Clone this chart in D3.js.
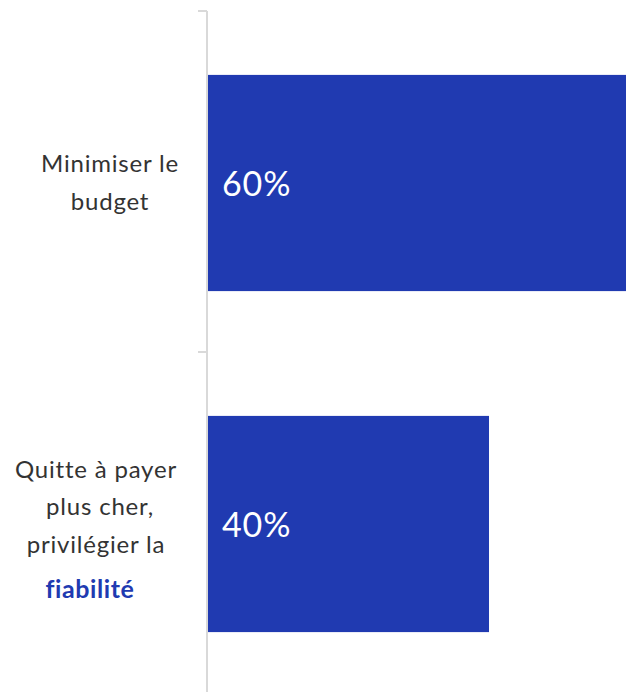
<!DOCTYPE html>
<html><head><meta charset="utf-8">
<script src="https://cdn.jsdelivr.net/npm/d3@7"></script>
<style>body{margin:0;background:#fff}svg{display:block}</style>
</head><body>
<script>
const categories = ["Minimiser le budget", "Quitte à payer plus cher, privilégier la fiabilité"];
const values = [60, 40];
const labelLines = [
  [{t:"Minimiser le"},{t:"budget"}],
  [{t:"Quitte à payer"},{t:"plus cher,"},{t:"privilégier la"},{t:"fiabilité", hl:true}]
];

const W = 626, H = 692;
const svg = d3.select("body").append("svg").attr("width", W).attr("height", H);
const x = d3.scaleLinear().domain([0, 59.5]).range([208, 626]);
const y = d3.scaleBand().domain(categories).range([12.5, 694.5]).paddingInner(0.366).paddingOuter(0.183);

svg.selectAll("rect.bar").data(categories).join("rect")
  .attr("x", x(0)).attr("y", d => y(d)).attr("height", y.bandwidth())
  .attr("width", (d,i) => x(values[i]) - x(0)).attr("fill", "#203AB1");

// axis
const step = (693 - 11) / categories.length;
svg.append("line").attr("x1", 207).attr("x2", 207).attr("y1", 11).attr("y2", 692)
  .attr("stroke", "#d9d9d9").attr("stroke-width", 2);
[0,1].forEach(i => {
  svg.append("line").attr("x1", 198).attr("x2", 207).attr("y1", 11 + i*step).attr("y2", 11 + i*step)
    .attr("stroke", "#d9d9d9").attr("stroke-width", 2);
});

// value labels
svg.selectAll("text.val").data(categories).join("text")
  .attr("x", 222).attr("y", d => y(d) + y.bandwidth()/2 + 13)
  .attr("fill", "#fff").attr("font-family", "Lato, sans-serif").attr("font-size", 34)
  .attr("letter-spacing", 0.9)
  .text((d,i) => values[i] + "%");

// category labels
const lineCfg = [
  {cx:[110, 110], ys:[172, 210]},
  {cx:[96, 100, 96, 90], ys:[478, 515, 553, 598]}
];
categories.forEach((c, i) => {
  labelLines[i].forEach((ln, j) => {
    svg.append("text").attr("x", lineCfg[i].cx[j]).attr("y", lineCfg[i].ys[j])
      .attr("text-anchor", "middle").attr("font-family", "Lato, sans-serif")
      .attr("font-size", ln.hl ? 25 : 24)
      .attr("letter-spacing", ln.hl ? 0.6 : 0.8)
      .attr("font-weight", ln.hl ? 700 : 400)
      .attr("fill", ln.hl ? "#203AB1" : "#333")
      .text(ln.t);
  });
});
</script>
</body></html>
